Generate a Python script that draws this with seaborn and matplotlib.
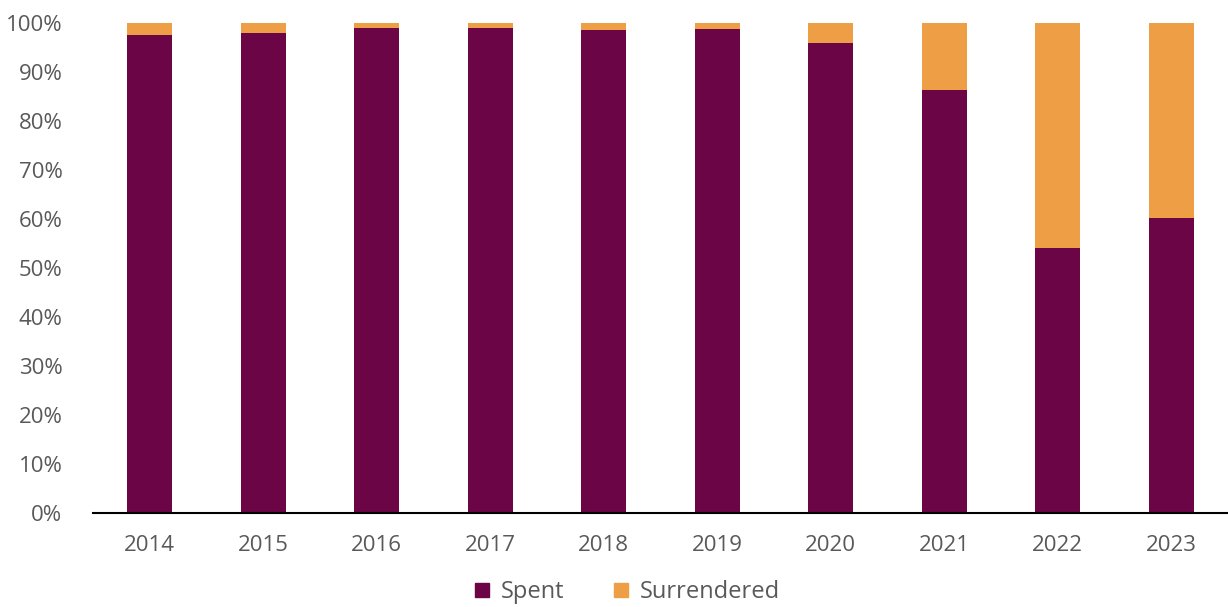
import numpy as np
import pandas as pd
import matplotlib
matplotlib.use('Agg')
import matplotlib.pyplot as plt
import seaborn as sns
from matplotlib.lines import Line2D
from matplotlib.ticker import FuncFormatter

years = ['2014', '2015', '2016', '2017', '2018', '2019', '2020', '2021', '2022', '2023']
spent = [97.6, 98.0, 99.0, 99.0, 98.6, 98.8, 96.0, 86.3, 54.1, 60.3]
surrendered = [100 - s for s in spent]

spent_color = '#6B0545'
surr_color = '#EE9E44'
text_color = '#595959'

df = pd.DataFrame({'year': years, 'spent': spent, 'surrendered': surrendered})
df['total'] = df['spent'] + df['surrendered']

sns.set_style('white')
plt.rcParams['font.family'] = ['Open Sans', 'DejaVu Sans']

fig = plt.figure(figsize=(12.28, 6.07), dpi=100)
ax = fig.add_axes([0.0757, 0.1549, 0.9243, 0.8071])

# stacked: draw total (surrendered on top) first, then spent over it
sns.barplot(data=df, x='year', y='total', color=surr_color, width=0.4,
            saturation=1, linewidth=0, ax=ax)
sns.barplot(data=df, x='year', y='spent', color=spent_color, width=0.4,
            saturation=1, linewidth=0, ax=ax)

ax.set_ylim(0, 100)
ax.set_xlim(-0.5, 9.5)
ax.set_yticks(np.arange(0, 101, 10))
ax.yaxis.set_major_formatter(FuncFormatter(lambda v, p: f'{v:.0f}%'))
ax.set_xlabel('')
ax.set_ylabel('')
ax.tick_params(axis='both', length=0, labelsize=16, colors=text_color)
ax.tick_params(axis='x', pad=16)
ax.tick_params(axis='y', pad=22)

for side in ['top', 'right', 'left']:
    ax.spines[side].set_visible(False)
ax.spines['bottom'].set_color('black')
ax.spines['bottom'].set_linewidth(1.5)
ax.grid(False)

handles = [
    Line2D([], [], marker='s', linestyle='', color=spent_color, markersize=10),
    Line2D([], [], marker='s', linestyle='', color=surr_color, markersize=10),
]
leg = fig.legend(handles, ['Spent', 'Surrendered'], loc='center',
                 bbox_to_anchor=(0.51, 0.024), ncol=2, frameon=False,
                 fontsize=17, handlelength=0.8, handletextpad=0.4,
                 columnspacing=2.0, borderpad=0.1)
for t in leg.get_texts():
    t.set_color(text_color)

fig.savefig('out.png', dpi=100)
